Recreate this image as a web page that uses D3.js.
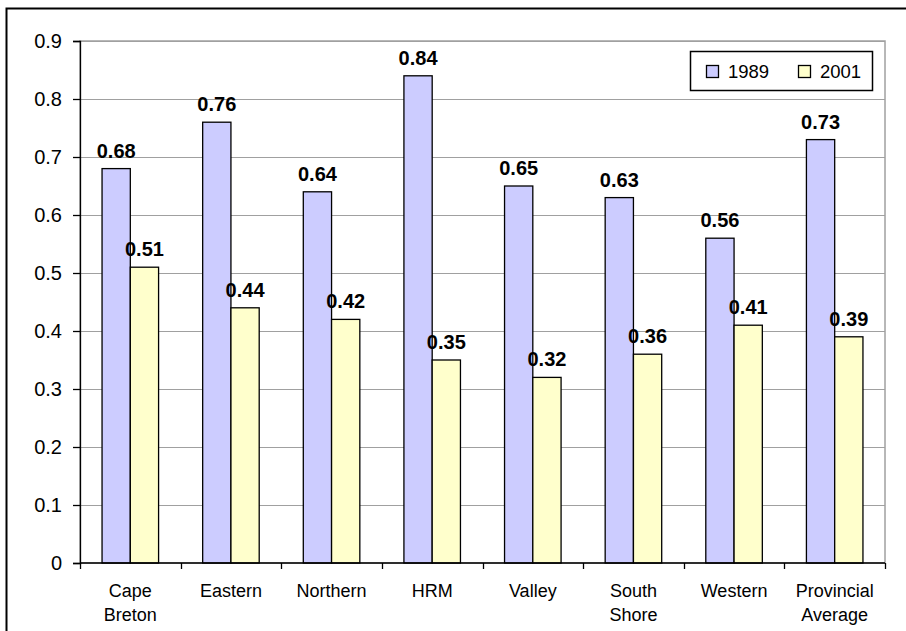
<!DOCTYPE html>
<html>
<head>
<meta charset="utf-8">
<script src="https://cdn.jsdelivr.net/npm/d3@7"></script>
<style>
  html, body { margin: 0; padding: 0; background: #fff; }
  svg { display: block; font-family: "Liberation Sans", Arial, sans-serif; }
</style>
</head>
<body>
<svg id="chart" width="906" height="631"></svg>
<script>
// Regions and the two survey years
const categories = [["Cape", "Breton"], ["Eastern"], ["Northern"], ["HRM"], ["Valley"], ["South", "Shore"], ["Western"], ["Provincial", "Average"]];
const seriesNames = ["1989", "2001"];
const values1989 = [0.68, 0.76, 0.64, 0.84, 0.65, 0.63, 0.56, 0.73];
const values2001 = [0.51, 0.44, 0.42, 0.35, 0.32, 0.36, 0.41, 0.39];
const yTicks = [0, 0.1, 0.2, 0.3, 0.4, 0.5, 0.6, 0.7, 0.8, 0.9];
const colors = ["#CCCCFF", "#FFFFCC"];

const svg = d3.select("#chart");
const margin = { left: 80, right: 21, top: 41, bottom: 68 };
const W = 906, H = 631;
const plotW = W - margin.left - margin.right;
const plotH = H - margin.top - margin.bottom;

// Outer chart frame
svg.append("rect")
  .attr("x", 6.5).attr("y", 8.5)
  .attr("width", 920).attr("height", 640)
  .attr("fill", "#fff").attr("stroke", "#000").attr("stroke-width", 2);

const g = svg.append("g").attr("transform", `translate(${margin.left},${margin.top})`);

const keys = categories.map((c, i) => i);
const x0 = d3.scaleBand().domain(keys).range([0, plotW]).paddingInner(0).paddingOuter(0);
const x1 = d3.scaleBand().domain(seriesNames).range([0, x0.bandwidth()]).paddingInner(0).paddingOuter(0.78);
const y = d3.scaleLinear().domain([0, 0.9]).range([plotH, 0]);

// Plot area border
g.append("rect")
  .attr("x", 0).attr("y", 0).attr("width", plotW).attr("height", plotH)
  .attr("fill", "none").attr("stroke", "#a0a0a0").attr("stroke-width", 1.5);

// Horizontal gridlines
g.append("g").selectAll("line").data(yTicks.filter(t => t > 0)).join("line")
  .attr("x1", 0).attr("x2", plotW)
  .attr("y1", d => Math.round(y(d)) + 0.5).attr("y2", d => Math.round(y(d)) + 0.5)
  .attr("stroke", "#a0a0a0").attr("stroke-width", 1.2);

// Bars
const rows = keys.map(i => ({ i, vals: [values1989[i], values2001[i]] }));
const groups = g.append("g").selectAll("g").data(rows).join("g")
  .attr("transform", d => `translate(${x0(d.i)},0)`);

groups.selectAll("rect").data(d => d.vals.map((v, k) => ({ v, k }))).join("rect")
  .attr("x", d => x1(seriesNames[d.k]))
  .attr("y", d => y(d.v))
  .attr("width", x1.bandwidth())
  .attr("height", d => plotH - y(d.v))
  .attr("fill", d => colors[d.k])
  .attr("stroke", "#000").attr("stroke-width", 1.3);

// Value labels
groups.selectAll("text").data(d => d.vals.map((v, k) => ({ v, k }))).join("text")
  .attr("x", d => x1(seriesNames[d.k]) + x1.bandwidth() / 2)
  .attr("y", d => y(d.v) - 11)
  .attr("text-anchor", "middle")
  .attr("font-size", 20).attr("font-weight", "bold")
  .attr("fill", "#000")
  .text(d => d.v.toFixed(2));

// Y axis
const yAxis = g.append("g")
  .call(d3.axisLeft(y).tickValues(yTicks).tickSize(7).tickPadding(11)
    .tickFormat(d => d === 0 ? "0" : d3.format(".1f")(d)));
yAxis.select(".domain").attr("stroke", "#000").attr("stroke-width", 1.3);
yAxis.selectAll(".tick line").attr("stroke", "#000").attr("stroke-width", 1.3);
yAxis.selectAll(".tick text").attr("font-size", 20).attr("font-family", "Liberation Sans, Arial, sans-serif").attr("fill", "#000");

// X axis
const xAxis = g.append("g").attr("transform", `translate(0,${plotH})`);
xAxis.append("line").attr("x1", 0).attr("x2", plotW).attr("y1", 0).attr("y2", 0)
  .attr("stroke", "#000").attr("stroke-width", 1.3);
xAxis.selectAll("line.tk").data(d3.range(keys.length + 1)).join("line")
  .attr("class", "tk")
  .attr("x1", d => Math.round(d * x0.bandwidth()) + 0.5)
  .attr("x2", d => Math.round(d * x0.bandwidth()) + 0.5)
  .attr("y1", 0).attr("y2", 6)
  .attr("stroke", "#000").attr("stroke-width", 1.3);

const catLabels = xAxis.selectAll("text").data(keys).join("text")
  .attr("x", i => x0(i) + x0.bandwidth() / 2)
  .attr("y", 34)
  .attr("text-anchor", "middle")
  .attr("font-size", 18).attr("fill", "#000");
catLabels.each(function(i) {
  const t = d3.select(this);
  categories[i].forEach((line, j) => {
    t.append("tspan").attr("x", x0(i) + x0.bandwidth() / 2).attr("dy", j === 0 ? 0 : 24).text(line);
  });
});

// Legend
const legend = svg.append("g").attr("transform", "translate(690,51)");
legend.append("rect").attr("x", 0.5).attr("y", 0.5).attr("width", 182).attr("height", 39)
  .attr("fill", "#fff").attr("stroke", "#000").attr("stroke-width", 1.5);
const items = legend.selectAll("g").data(seriesNames).join("g")
  .attr("transform", (d, k) => `translate(${16 + k * 92},14)`);
items.append("rect").attr("x", 0.5).attr("y", 0.5).attr("width", 12).attr("height", 12)
  .attr("fill", (d, k) => colors[k]).attr("stroke", "#000").attr("stroke-width", 1.3);
items.append("text").attr("x", 22).attr("y", 12.5)
  .attr("font-size", 18.5).attr("fill", "#000").text(d => d);
</script>
</body>
</html>
